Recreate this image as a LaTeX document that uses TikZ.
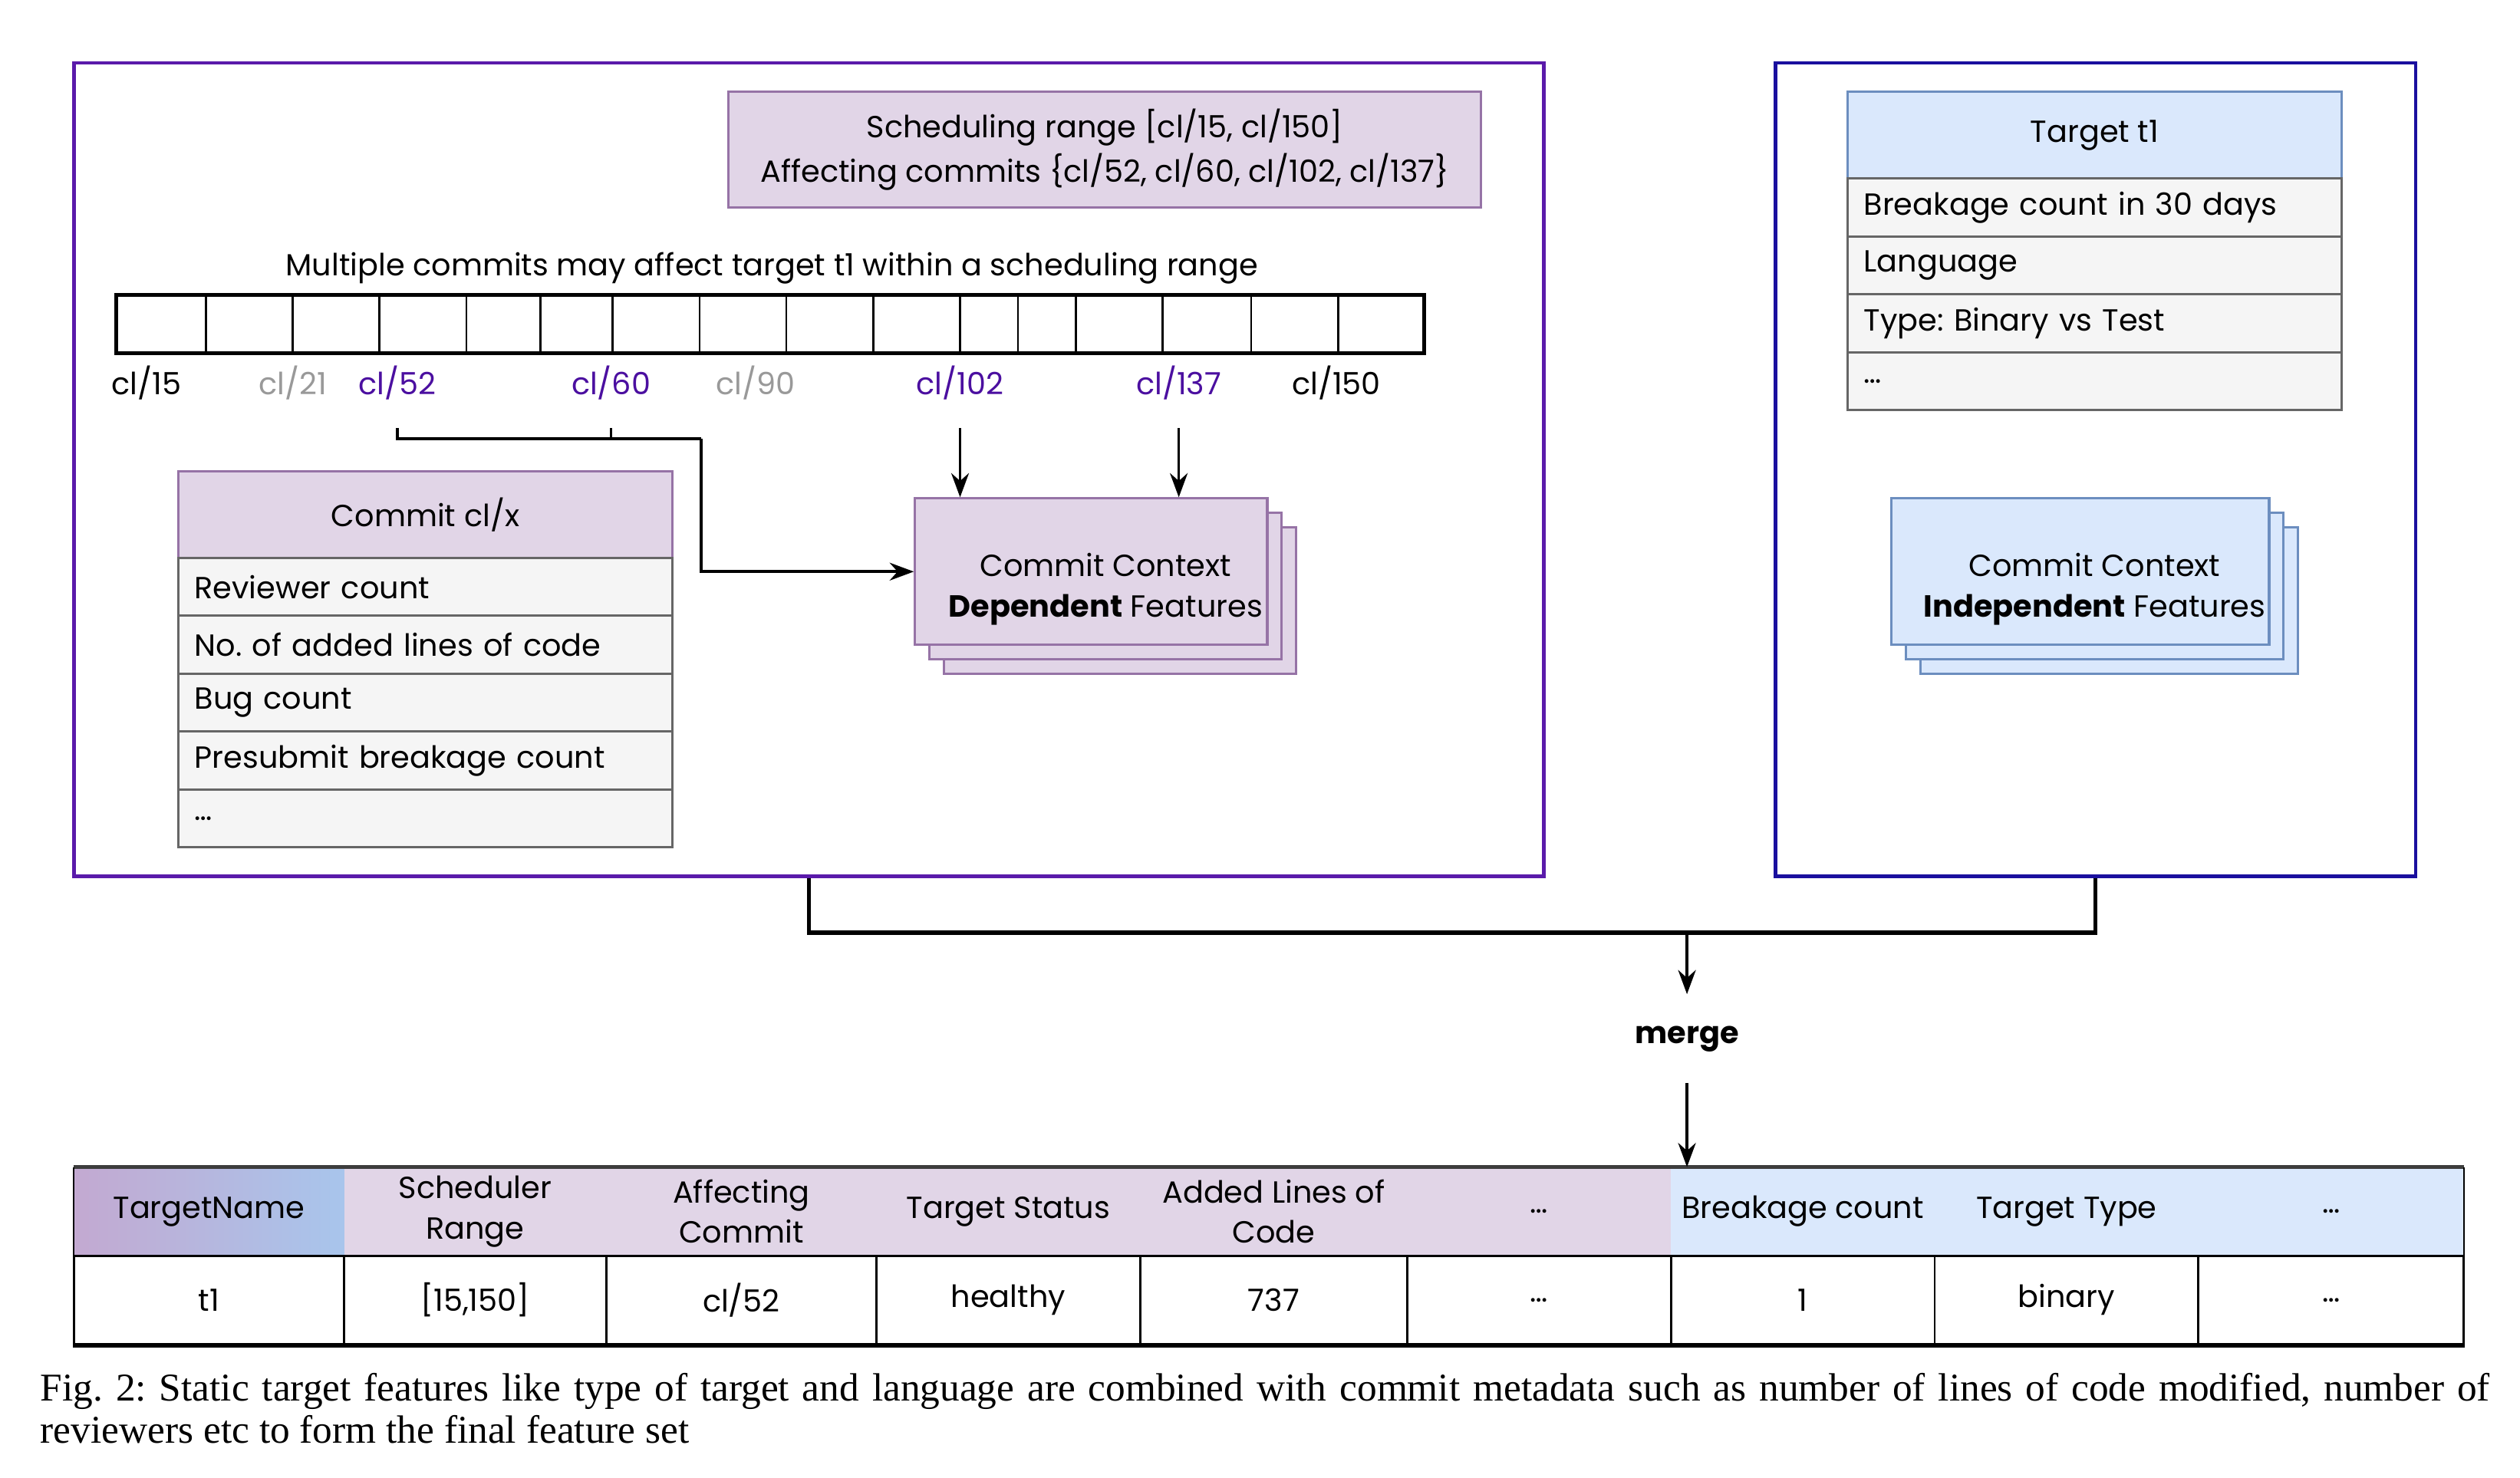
\documentclass[tikz,border=0pt]{standalone}
\usepackage{fontspec}
\setmainfont{Poppins}
\newfontfamily\capfont{Liberation Serif}
\usetikzlibrary{arrows.meta,positioning}
\frenchspacing
\definecolor{pfill}{HTML}{E1D5E7}
\definecolor{pline}{HTML}{9673A6}
\definecolor{bfill}{HTML}{DAE8FC}
\definecolor{bline}{HTML}{6C8EBF}
\definecolor{rfill}{HTML}{F5F5F5}
\definecolor{rline}{HTML}{666666}
\definecolor{cdframe}{HTML}{5A1AAA}
\definecolor{ciframe}{HTML}{1A0F9E}
\definecolor{clhit}{HTML}{4B0FA0}
\definecolor{clskip}{HTML}{999999}
\definecolor{gradl}{HTML}{C3A9D1}
\definecolor{gradr}{HTML}{A8C5EC}
\tikzset{
  txt/.style={font=\fontsize{19}{25}\selectfont},
  frame/.style={draw,line width=2pt,minimum height=506pt},
  cltag/.style={txt,minimum height=56pt,inner sep=0pt},
  hdr/.style={txt,line width=1.5pt,minimum width=307pt,minimum height=54pt},
  row/.style={txt,draw=rline,fill=rfill,line width=1.5pt,minimum height=36pt,inner xsep=10pt,text width=287pt,align=left},
  ctx/.style={line width=1.5pt,minimum width=219pt,minimum height=91pt},
  hgrad/.style={left color=gradl,right color=gradr},
  hp/.style={fill=pfill},
  hb/.style={fill=bfill},
}
\begin{document}
\begin{tikzpicture}[x=1pt,y=-1pt,>={Stealth[length=15pt,width=11pt]}]
\useasboundingbox (0,0) rectangle (1567,919.2);
% two panels
\node[frame,draw=cdframe,minimum width=914pt] (deppanel) at (503,292) {};
\node[frame,draw=ciframe,minimum width=398pt] (indpanel) at (1303,292) {};

\node[txt,font=\fontsize{19}{28}\selectfont,draw=pline,fill=pfill,line width=1.5pt,minimum width=468pt,minimum height=72pt,align=center] (range) at (687,93)
  {Scheduling range [cl/15, cl/150]\\Affecting commits \{cl/52, cl/60, cl/102, cl/137\}};
\node[txt] (multi) at (480,167) {Multiple commits may affect target t1 within a scheduling range};

% commit strip
\foreach \xa/\xb [count=\i] in {73/128,128/182,182/236,236/290,290/336,336/381,381/435,435/489,489/543,543/597,597/633,633/669,669/723,723/778,778/832,832/885}{
  \node[draw,line width=1.3pt,minimum width={(\xb-\xa)*1pt},minimum height=35pt,inner sep=0pt] (c\i) at ({(\xa+\xb)/2},201.5) {};
}
\draw[line width=2.5pt] (c1.north west) rectangle (c16.south east);
\foreach \x/\n/\col in {91/15/black,182/21/clskip,247/52/clhit,380/60/clhit,470/90/clskip,597/102/clhit,733/137/clhit,831/150/black}{
  \node[cltag,text=\col] (l\n) at (\x,238) {cl/\n};
}

% commit context dependent
\node[ctx,draw=pline,fill=pfill] (dep3) at (696.5,373.5) {};
\node[ctx,draw=pline,fill=pfill] (dep2) at (687.5,364.5) {};
\node[ctx,draw=pline,fill=pfill] (dep) at (678.5,355.5) {};
\node[txt,align=center] (deptext) at (687.5,366.5) {Commit Context\\\textbf{Dependent} Features};

\coordinate (jn) at (436,273);
\draw[line width=2pt] (l52.south) |- (jn);
\draw[line width=1.3pt] (l60.south) -- (l60.south |- jn);
\path[draw,line width=2pt,->] (jn) |- (dep.west);
\path[draw,line width=1.6pt,->] (l102.south) -- (l102.south |- dep.north);
\path[draw,line width=1.6pt,->] (l137.south) -- (l137.south |- dep.north);

% commit table
\node[hdr,draw=pline,fill=pfill] (clx) at (264.5,320) {Commit cl/x};
\foreach \txt [count=\i] in {Reviewer count,No. of added lines of code,Bug count,Presubmit breakage count,{\dots}}{
  \node[row] (clrow\i) at (264.5,{329+36*\i}) {\txt};
}

% target table
\node[hdr,draw=bline,fill=bfill] (tgt) at (1302.5,84) {Target t1};
\foreach \txt [count=\i] in {Breakage count in 30 days,Language,Type: Binary vs Test,{\dots}}{
  \node[row] (tgrow\i) at (1302.5,{93+36*\i}) {\txt};
}

% commit context independent
\node[ctx,draw=bline,fill=bfill,minimum width=235pt] (ind3) at (1311.5,373.5) {};
\node[ctx,draw=bline,fill=bfill,minimum width=235pt] (ind2) at (1302.5,364.5) {};
\node[ctx,draw=bline,fill=bfill,minimum width=235pt] (ind) at (1293.5,355.5) {};
\node[txt,align=center] (indtext) at (1302.5,366.5) {Commit Context\\\textbf{Independent} Features};

% merge
\coordinate (mj) at (1049,580);
\draw[line width=2.5pt] (deppanel.south) |- (indpanel.south |- mj) -- (indpanel.south);
\node[font=\fontsize{19}{25}\selectfont\bfseries,minimum height=55pt,inner sep=0pt] (merge) at (1049,646) {merge};
\path[draw,line width=1.6pt,->] (mj) -- (merge.north);

% feature table
\foreach \xa/\xb/\sty/\hd/\val [count=\i] in {46/214/hgrad/TargetName/t1,214/377/hp/{Scheduler\\Range}/{[15,150]},377/545/hp/{Affecting\\Commit}/{cl/52},545/709/hp/Target Status/healthy,709/875/hp/{Added Lines of\\Code}/737,875/1039/hp/{\dots}/{\dots},1039/1203/hb/Breakage count/1,1203/1367/hb/Target Type/binary,1367/1532/hb/{\dots}/{\dots}}{
  \node[txt,\sty,minimum width={(\xb-\xa)*1pt},minimum height=55pt,inner sep=0pt,align=center] (h\i) at ({(\xa+\xb)/2},753.5) {\hd};
  \node[txt,draw,line width=1.3pt,minimum width={(\xb-\xa)*1pt},minimum height=55pt,inner sep=0pt] (d\i) at ({(\xa+\xb)/2},808.5) {\val};
}
\draw[line width=2pt,rline!60!black] (h1.north west) -- (h9.north east);
\draw[line width=1pt] (h1.north west) -- (h1.south west) (h9.north east) -- (h9.south east);
\draw[line width=3pt] (d1.south west) -- (d9.south east);
\path[draw,line width=1.6pt,->] (merge.south) -- (merge.south |- h7.north);

\node[font=\capfont\fontsize{24.5}{26}\selectfont,text width=1523pt,align=justify,anchor=north west,inner sep=0pt] (caption) at (25,854)
  {Fig. 2: Static target features like type of target and language are combined with commit metadata such as number of lines of code modified, number of\linebreak reviewers etc to form the final feature set};
\end{tikzpicture}
\end{document}
